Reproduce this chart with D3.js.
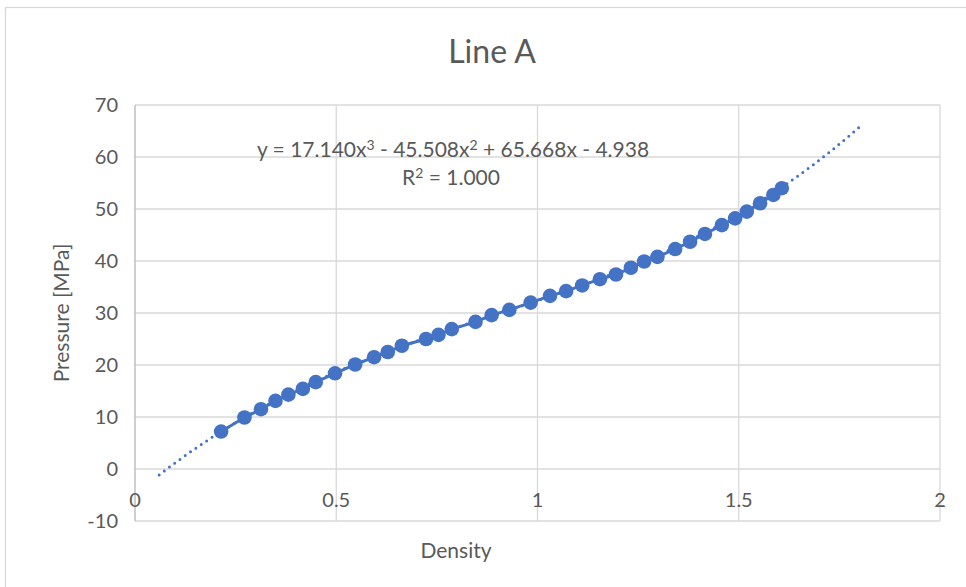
<!DOCTYPE html>
<html lang="en">
<head>
    <meta charset="UTF-8">
    <script src="https://cdn.jsdelivr.net/npm/d3@7"></script>
    <title>Line A</title>
    <style>
        body { margin: 0; background: #fff; }
        svg { display: block; }
        text { font-family: Lato, "Open Sans", sans-serif; fill: #595959; }
        .grid line { stroke: #d9d9d9; stroke-width: 1.3; }
    </style>
</head>
<body>
    <svg width="966" height="587"></svg>
    <script>
        // measured points (density, pressure)
        var density = [0.214, 0.272, 0.313, 0.349, 0.381, 0.417, 0.449, 0.497, 0.547, 0.594,
                       0.628, 0.663, 0.723, 0.754, 0.787, 0.846, 0.886, 0.930, 0.983, 1.031,
                       1.071, 1.111, 1.155, 1.195, 1.232, 1.265, 1.298, 1.342, 1.379, 1.416,
                       1.458, 1.491, 1.520, 1.553, 1.586, 1.607];
        var pressure = [7.2, 9.9, 11.5, 13.1, 14.3, 15.4, 16.7, 18.4, 20.1, 21.5,
                        22.5, 23.7, 25.0, 25.8, 26.9, 28.3, 29.6, 30.6, 32.0, 33.3,
                        34.2, 35.3, 36.5, 37.4, 38.7, 39.9, 40.8, 42.3, 43.7, 45.2,
                        46.9, 48.2, 49.5, 51.1, 52.7, 54.0];

        // cubic trendline coefficients (x^3, x^2, x, 1) and forecast range
        var coef = [17.140, -45.508, 65.668, -4.938];
        var trendRange = [0.06, 1.8];

        var xTicks = [0, 0.5, 1, 1.5, 2];
        var yTicks = [-10, 0, 10, 20, 30, 40, 50, 60, 70];

        var svg = d3.select("svg"),
            width = +svg.attr("width"),
            height = +svg.attr("height");

        // chart border (Excel chart area)
        svg.append("rect")
           .attr("x", 5.5).attr("y", 7.5)
           .attr("width", width).attr("height", height)
           .attr("fill", "none")
           .attr("stroke", "#d9d9d9")
           .attr("stroke-width", 1.3);

        var x = d3.scaleLinear().domain([0, 2]).range([135, 940]);
        var y = d3.scaleLinear().domain([-10, 70]).range([521, 105]);

        // gridlines
        var grid = svg.append("g").attr("class", "grid");
        grid.selectAll(".h").data(yTicks).enter().append("line")
            .attr("x1", x(0)).attr("x2", x(2))
            .attr("y1", function(d) { return y(d); })
            .attr("y2", function(d) { return y(d); });
        grid.selectAll(".v").data(xTicks.slice(1)).enter().append("line")
            .attr("y1", y(70)).attr("y2", y(-10))
            .attr("x1", function(d) { return x(d); })
            .attr("x2", function(d) { return x(d); });

        // vertical axis line
        svg.append("line")
           .attr("x1", x(0)).attr("x2", x(0))
           .attr("y1", y(70)).attr("y2", y(-10))
           .attr("stroke", "#bfbfbf").attr("stroke-width", 1.5);

        // tick labels
        svg.append("g").selectAll("text").data(yTicks).enter().append("text")
           .attr("x", 118)
           .attr("y", function(d) { return y(d) + 7; })
           .attr("text-anchor", "end")
           .style("font-size", "20px")
           .text(function(d) { return d; });

        svg.append("g").selectAll("text").data(xTicks).enter().append("text")
           .attr("x", function(d) { return x(d); })
           .attr("y", 507)
           .attr("text-anchor", "middle")
           .style("font-size", "20px")
           .text(function(d) { return d; });

        // trendline (dotted)
        var poly = function(t) {
            return coef[0] * t * t * t + coef[1] * t * t + coef[2] * t + coef[3];
        };
        var trendX = d3.range(trendRange[0], trendRange[1] + 0.001, 0.01);
        svg.append("path")
           .datum(trendX)
           .attr("fill", "none")
           .attr("stroke", "#4472c4")
           .attr("stroke-width", 3)
           .attr("stroke-linecap", "round")
           .attr("stroke-dasharray", "0 6.5")
           .attr("d", d3.line()
                        .x(function(d) { return x(d); })
                        .y(function(d) { return y(poly(d)); }));

        // data series
        var pts = density.map(function(d, i) { return [d, pressure[i]]; });
        svg.append("path")
           .datum(pts)
           .attr("fill", "none")
           .attr("stroke", "#4472c4")
           .attr("stroke-width", 3)
           .attr("d", d3.line()
                        .x(function(d) { return x(d[0]); })
                        .y(function(d) { return y(d[1]); }));

        svg.append("g").selectAll("circle").data(pts).enter().append("circle")
           .attr("cx", function(d) { return x(d[0]); })
           .attr("cy", function(d) { return y(d[1]); })
           .attr("r", 7.3)
           .attr("fill", "#4472c4");

        // titles
        svg.append("text")
           .attr("x", 492).attr("y", 63)
           .attr("text-anchor", "middle")
           .style("font-size", "32px")
           .text("Line A");

        svg.append("text")
           .attr("transform", "translate(69,313) rotate(-90)")
           .attr("text-anchor", "middle")
           .style("font-size", "21px")
           .text("Pressure [MPa]");

        svg.append("text")
           .attr("x", 456).attr("y", 558)
           .attr("text-anchor", "middle")
           .style("font-size", "21px")
           .text("Density");

        // trendline equation
        var eq = svg.append("text")
           .attr("x", 453).attr("y", 157)
           .attr("text-anchor", "middle")
           .style("font-size", "21px");
        eq.append("tspan").text("y = 17.140x");
        eq.append("tspan").attr("dy", -7).style("font-size", "14px").text("3");
        eq.append("tspan").attr("dy", 7).text(" - 45.508x");
        eq.append("tspan").attr("dy", -7).style("font-size", "14px").text("2");
        eq.append("tspan").attr("dy", 7).text(" + 65.668x - 4.938");

        var r2 = svg.append("text")
           .attr("x", 451).attr("y", 185)
           .attr("text-anchor", "middle")
           .style("font-size", "21px");
        r2.append("tspan").text("R");
        r2.append("tspan").attr("dy", -7).style("font-size", "14px").text("2");
        r2.append("tspan").attr("dy", 7).text(" = 1.000");
    </script>
</body>
</html>
